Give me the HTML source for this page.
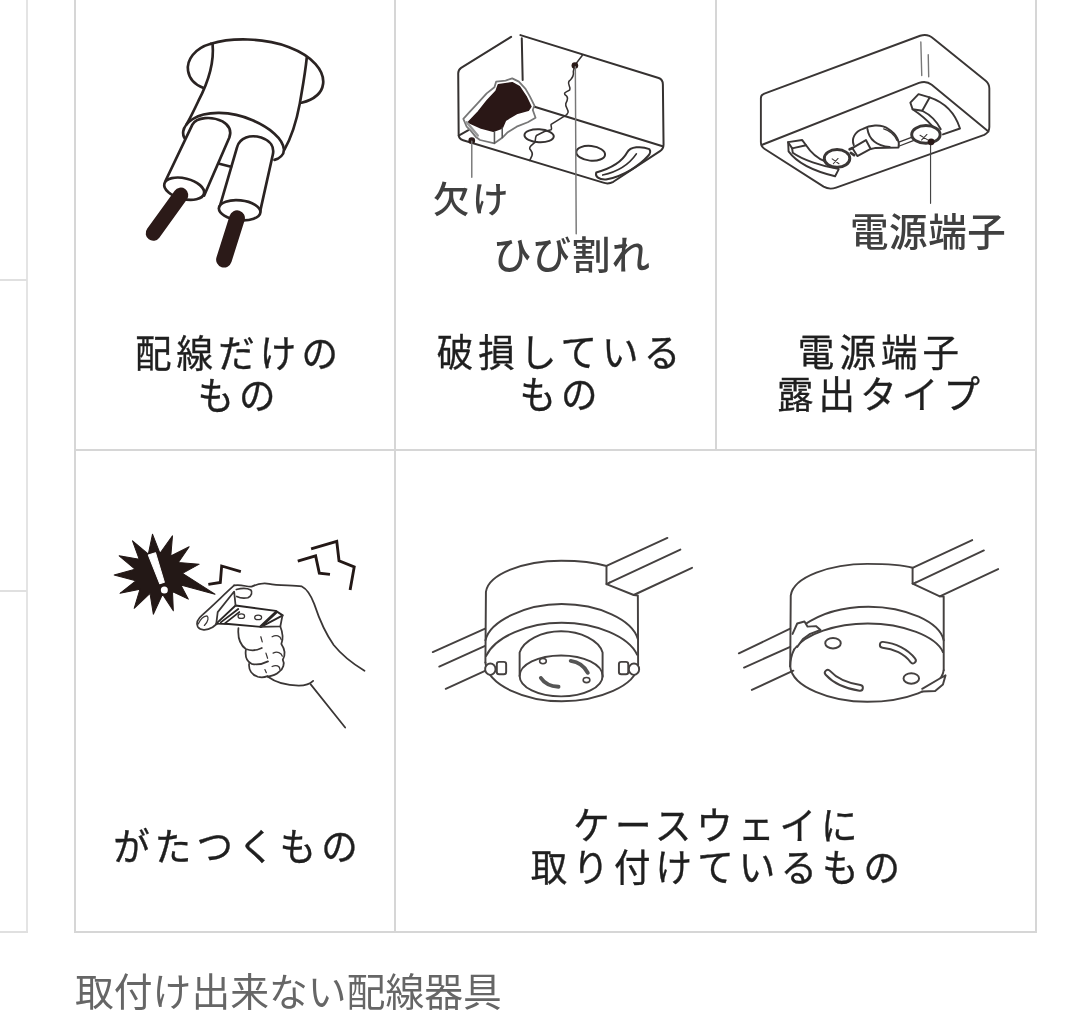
<!DOCTYPE html>
<html lang="ja">
<head>
<meta charset="utf-8">
<title>取付け出来ない配線器具</title>
<style>
html,body{margin:0;padding:0;background:#fff;}
body{width:1080px;height:1023px;position:relative;overflow:hidden;font-family:"Liberation Sans","Noto Sans CJK JP",sans-serif;}
.ln{position:absolute;background:#d6d6d6;}
.lbl{position:absolute;text-align:center;color:#1f1f1f;font-size:36.5px;line-height:41px;letter-spacing:5.1px;padding-left:6px;transform:scaleY(1.04);box-sizing:border-box;white-space:nowrap;font-weight:400;-webkit-text-stroke:0.35px #1f1f1f;}
.cap{position:absolute;left:75px;top:963px;font-size:38.8px;line-height:60px;color:#666;font-weight:400;white-space:nowrap;}
svg{position:absolute;left:0;top:0;}
svg text{font-family:"Liberation Sans","Noto Sans CJK JP",sans-serif;}
</style>
</head>
<body>
<div id="w" style="position:absolute;left:0;top:0;width:1080px;height:1023px;filter:blur(0.45px)">
<!-- grid lines -->
<div class="ln" style="left:26px;top:0;width:2px;height:933px;background:#e4e4e4"></div>
<div class="ln" style="left:0;top:279px;width:27px;height:2px;background:#e0e0e0"></div>
<div class="ln" style="left:0;top:590px;width:27px;height:2px;background:#e0e0e0"></div>
<div class="ln" style="left:0;top:931px;width:28px;height:2px;background:#e0e0e0"></div>
<div class="ln" style="left:74px;top:0;width:2px;height:933px"></div>
<div class="ln" style="left:394px;top:0;width:2px;height:933px"></div>
<div class="ln" style="left:715px;top:0;width:2px;height:450px"></div>
<div class="ln" style="left:1034.6px;top:0;width:2px;height:933px"></div>
<div class="ln" style="left:74px;top:449px;width:962.6px;height:2px"></div>
<div class="ln" style="left:74px;top:931px;width:962.6px;height:2px"></div>
<!-- labels -->
<div class="lbl" style="left:76px;width:320px;top:334px">配線だけの<br>もの</div>
<div class="lbl" style="left:398px;width:320px;top:333px">破損している<br>もの</div>
<div class="lbl" style="left:718px;width:320px;top:333px">電源端子<br>露出タイプ</div>
<div class="lbl" style="left:75px;width:320px;top:827px">がたつくもの</div>
<div class="lbl" style="left:394px;width:642px;top:806px">ケースウェイに<br>取り付けているもの</div>
<div class="cap">取付け出来ない配線器具</div>
<svg width="1080" height="1023" viewBox="0 0 1080 1023" fill="none" stroke="#2a2322" stroke-width="2" stroke-linecap="round" stroke-linejoin="round">
<!-- fig1: bare wiring; drawn in zoom coords (src = 130 + x/4.65, 30 + y/4.65) -->
<g transform="translate(130,30) scale(0.21505)" stroke-width="12.5">
  <!-- ceiling hole ellipse (visible parts) -->
  <path d="M376 64 C300 85 262 140 270 190 C276 228 305 256 342 270"/>
  <path d="M376 64 C470 35 620 35 740 80 C850 122 905 190 898 250 C892 298 850 325 798 338"/>
  <!-- cable sheath -->
  <path d="M384 66 C392 150 360 250 318 330 C300 368 280 410 262 440"/>
  <path d="M822 128 C815 200 800 280 790 340 C775 420 750 500 718 556"/>
  <!-- sheath end ellipse -->
  <path d="M268 520 C235 490 240 450 290 415 C350 375 470 375 570 420 C650 455 712 505 716 556 C716 580 696 598 672 604"/>
  <!-- wire 1 -->
  <path d="M166 700 L290 440 C310 405 380 400 430 425 C465 445 472 470 462 500 L345 770" fill="#fff"/>
  <ellipse cx="252" cy="738" rx="95" ry="48" transform="rotate(14 252 738)" fill="#fff"/>
  <!-- wire 2 -->
  <path d="M415 830 L498 545 C510 500 560 485 610 500 C655 515 672 545 664 580 L606 840" fill="#fff"/>
  <ellipse cx="510" cy="838" rx="97" ry="46" transform="rotate(6 510 838)" fill="#fff"/>
  <!-- link between wires -->
  <path d="M415 622 L470 636"/>
  <!-- conductors -->
  <path d="M236 768 L108 945" stroke="#2b1a18" stroke-width="70"/>
  <path d="M498 875 L437 1068" stroke="#2b1a18" stroke-width="73"/>
</g>
<!-- fig2: broken box; main group in zoom coords (src = 440 + x/4.5, 20 + y/4.5) -->
<g transform="translate(440,20) scale(0.22222)" stroke-width="9" stroke="#353130">
  <!-- outer box -->
  <path d="M320 76 L95 215 C84 222 82 228 82 240 L84 515 C84 530 90 537 104 541 L735 732 C752 738 766 736 780 728 L990 590 C1002 582 1006 574 1006 560 L1003 290 C1003 274 998 266 984 261 L362 68"/>
  <!-- inner edges -->
  <path d="M368 82 L372 270" stroke-width="9"/>
  <path d="M418 388 L1002 568"/>
  <path d="M84 520 L128 496"/>
  <!-- holes -->
  <ellipse cx="446" cy="521" rx="66" ry="29" transform="rotate(3 446 521)"/>
  <ellipse cx="678" cy="600" rx="65" ry="33" transform="rotate(6 678 600)"/>
  <path d="M703 686 C760 670 818 640 842 596 C856 570 905 566 942 581 C950 592 945 603 936 612 C900 652 830 702 747 718 C715 720 697 704 703 686 Z"/>
  <path d="M732 698 C795 684 850 652 884 602" stroke-width="7"/>
  <!-- crack -->
  <path d="M640 160 L607 203 L600 232 C604 250 596 262 580 276 C572 290 590 300 584 314 C570 324 556 326 562 336 C580 346 574 360 566 376 C562 392 580 402 576 416 C572 428 566 430 558 434 L522 456 L500 470 C498 480 506 488 500 494 L470 502 L434 520 C426 532 432 542 426 552 C414 562 400 568 404 580 C412 592 420 598 414 610 L404 632" stroke-width="7"/>
  <circle cx="607" cy="205" r="15" fill="#2a1a18" stroke="none"/>
  <circle cx="143" cy="543" r="15" fill="#2a1a18" stroke="none"/>
  <!-- leaders -->
  <path d="M609 210 L613 962" stroke="#777" stroke-width="6.5"/>
  <path d="M143 545 L143 708" stroke="#777" stroke-width="6.5"/>
</g>
<!-- broken part: zoom coords (src = 450 + x/9, 60 + y/9) -->
<g transform="translate(450,60) scale(0.11111)" stroke-width="20">
  <path d="M120 530 L175 470 L240 400 L330 300 L400 245 L415 195 L500 185 L560 165 L620 195 L680 260 L720 330 L760 410 L745 450 L770 520 L700 560 L600 600 L520 650 L470 700 L400 750 L270 720 L230 690 L190 640 L150 600 Z" fill="#fff" stroke="#777" stroke-width="16"/>
  <path d="M165 560 L255 465 L335 365 L415 280 L435 222 L560 205 L625 240 L688 335 L728 420 L705 452 L600 482 L500 542 L470 612 L390 642 L280 612 Z" fill="#2a1716" stroke="#2a1716" stroke-width="14"/>
  <path d="M400 645 L400 748 M470 612 L470 698" stroke-width="14" stroke="#555"/>
  <path d="M150 560 L250 680" stroke="#999" stroke-width="22"/>
</g>
<g fill="#404040" stroke="none" font-weight="500">
  <text x="433" y="213" font-size="36.5" letter-spacing="2.5">欠け</text>
  <text x="493" y="269" font-size="38.5" letter-spacing="1">ひび割れ</text>
</g>
<!-- fig3: exposed terminal type; box in zoom coords (src = 750 + x/4.32, 20 + y/4.32) -->
<g transform="translate(750,20) scale(0.23148)" stroke-width="8.2" stroke="#3a3635">
  <path d="M62 318 L735 68 C760 60 775 64 792 80 L1018 262 C1030 272 1034 280 1034 296 L1034 462 C1034 480 1028 488 1012 496 L372 724 C350 732 335 730 318 720 L62 556 C50 548 47 542 47 528 L47 338 C47 328 50 323 58 320 Z"/>
  <path d="M50 540 L730 272 C752 264 768 266 785 280 L1030 482"/>
  <path d="M738 95 L742 240 M770 150 L772 245" stroke="#777" stroke-width="6"/>
  <path d="M780 525 L780 792" stroke="#444" stroke-width="5"/>
</g>
<!-- details: zoom coords (src = 780 + x/6.75, 90 + y/6.75) -->
<g transform="translate(780,90) scale(0.148148)" stroke-width="13" stroke="#3a3635">
  <!-- left slot -->
  <path d="M55 352 L150 338 L176 373 L82 394 Z"/>
  <path d="M55 352 L58 414 C120 500 240 550 372 582 L396 536"/>
  <path d="M82 394 L86 424 C150 470 280 515 392 532"/>
  <path d="M176 373 C220 440 260 465 305 482"/>
  <!-- right slot -->
  <path d="M935 28 L1010 50 L960 140 L895 130 L880 85 Z"/>
  <path d="M1010 50 C1100 80 1180 150 1215 260 L1100 300"/>
  <path d="M960 140 C1020 170 1060 215 1085 265"/>
  <path d="M895 130 C940 160 990 200 1030 245"/>
  <!-- left screw -->
  <ellipse cx="385" cy="462" rx="86" ry="60" stroke-width="20" fill="#fff"/>
  <path d="M352 465 L398 498 M360 498 L392 462" stroke-width="7"/>
  <!-- middle piece -->
  <path d="M488 392 L580 338 L612 398 L522 446 Z" fill="#fff"/>
  <path d="M498 372 C480 330 505 280 560 262 C600 240 680 225 730 262 C790 300 810 350 800 388 L640 392 L612 398"/>
  <path d="M590 262 C600 330 650 375 740 385"/>
  <path d="M700 262 C735 270 775 305 790 340" stroke-width="9"/>
  <path d="M470 400 L490 392 M478 425 L500 440" stroke-width="18"/>
  <!-- link bar -->
  <path d="M802 352 L892 318 M806 378 L900 342" stroke-width="9"/>
  <!-- right screw -->
  <ellipse cx="985" cy="300" rx="96" ry="60" stroke-width="20" fill="#fff"/>
  <path d="M945 305 L1000 338 M955 338 L992 300" stroke-width="7"/>
  <circle cx="1020" cy="350" r="23" fill="#2a1a18" stroke="none"/>
</g>
<g fill="#404040" stroke="none" font-weight="500">
  <text x="850" y="246" font-size="38.5" letter-spacing="0.6">電源端子</text>
</g>
<!-- fig4: starburst; zoom coords (src = 105 + x/6, 525 + y/6) -->
<g transform="translate(105,525) scale(0.166667)">
  <path d="M285 55 L330 170 L405 65 L395 185 L505 130 L440 225 L565 235 L465 290 L660 415 L455 360 L500 445 L405 400 L410 515 L345 415 L290 535 L270 410 L175 500 L210 385 L90 410 L185 335 L55 300 L180 265 L85 185 L205 205 L165 95 L260 175 Z" fill="#231816" stroke="#231816" stroke-width="6"/>
  <path d="M260 180 L303 166 L356 343 L328 352 Z" fill="#fff" stroke="#fff" stroke-width="6"/>
  <circle cx="356" cy="390" r="21" fill="#fff" stroke="none"/>
  <path d="M620 356 L692 345 L700 246 L815 280" stroke="#231816" stroke-width="17" stroke-linecap="butt" stroke-linejoin="miter"/>
</g>
<!-- hand; zoom coords (src = 190 + x/4.872, 530 + y/4.872) -->
<g transform="translate(190,530) scale(0.205255)" stroke-width="8.5" stroke="#3a3635">
  <!-- zigzags -->
  <g stroke="#231816" stroke-width="14" stroke-linecap="butt" stroke-linejoin="miter">
    <path d="M525 152 L612 126 L630 210 L682 216"/>
    <path d="M590 92 L715 55 L726 150 L800 180 L780 292"/>
  </g>
  <!-- top of hand + wrist -->
  <path d="M215 270 C250 262 280 280 300 276 C330 262 360 256 385 262 C430 272 500 268 545 275 C575 290 590 320 605 360 C625 420 650 490 700 560 C740 610 800 655 850 686"/>
  <!-- index finger -->
  <path d="M215 270 C170 310 110 370 62 412 C40 430 28 452 38 472 C50 490 80 492 110 474 L150 442"/>
  <path d="M40 458 C50 435 68 420 82 418 C92 425 90 445 70 465" stroke-width="6"/>
  <!-- thumb -->
  <path d="M226 290 C250 284 280 284 296 292 C306 302 300 322 282 330 C262 334 240 330 228 324"/>
  <!-- device plate -->
  <path d="M128 456 L222 368 L418 394 L452 416 L346 472 L188 458 Z" fill="#fff" stroke-width="9" stroke="#2a2625"/>
  <path d="M150 450 L235 385 M170 455 L240 400" stroke-width="9" stroke="#2a2625"/>
  <path d="M345 470 L420 400" stroke-width="14" stroke="#2a2625"/>
  <ellipse cx="250" cy="420" rx="16" ry="11" stroke-width="6"/>
  <ellipse cx="332" cy="426" rx="17" ry="11" stroke-width="6"/>
  <path d="M222 368 L215 300 L135 400 L128 456" />
  <!-- curled fingers -->
  <path d="M236 478 C232 520 245 560 272 580 C300 590 330 585 350 575"/>
  <path d="M272 585 C268 615 275 640 300 652 C330 660 360 650 380 640"/>
  <path d="M288 652 C285 680 300 705 330 715 C350 720 368 716 378 712"/>
  <path d="M346 472 L440 470 L450 418"/>
  <path d="M440 470 C452 500 455 530 445 555 C462 580 465 610 452 632 C462 650 455 675 435 690 C420 705 395 712 378 714"/>
  <path d="M400 520 C420 510 440 515 445 535 M405 600 C425 590 445 598 450 615 M400 665 C420 655 438 662 438 680" stroke-width="6"/>
  <path d="M345 520 L352 545 M370 600 L378 625 M365 680 L372 695" stroke-width="6"/>
  <!-- bottom of hand -->
  <path d="M378 714 C420 745 470 758 530 758 C560 758 585 750 600 735"/>
  <path d="M588 752 L756 962"/>
</g>
<!-- fig5a: caseway 1; zoom coords (src = 425 + x/3.857, 525 + y/3.857) -->
<g transform="translate(425,525) scale(0.25926)" stroke-width="7.5" stroke="#454140">
  <!-- caseway lines left -->
  <path d="M30 490 L232 400 M55 546 L232 466 M80 632 L238 560"/>
  <!-- caseway lines right -->
  <path d="M700 158 L935 50 M712 222 L985 95 M805 270 L1030 165"/>
  <!-- body -->
  <path d="M233 530 L235 258 C245 190 380 138 525 138 C600 138 660 146 700 158 L700 228 L805 270 L821 272 L822 540"/>
  <path d="M700 228 L712 222"/>
  <path d="M233 445 C250 370 390 305 527 305 C670 305 800 365 821 440"/>
  <path d="M236 505 C270 430 400 377 527 377 C660 377 785 430 818 500"/>
  <path d="M233 530 C240 620 390 680 527 680 C670 680 815 620 822 540"/>
  <!-- inner socket -->
  <path d="M365 582 L365 492 C380 445 450 410 525 410 C600 410 672 445 685 492 L685 585"/>
  <ellipse cx="525" cy="582" rx="160" ry="79"/>
  <ellipse cx="455" cy="525" rx="13" ry="10" stroke-width="6"/>
  <ellipse cx="623" cy="598" rx="13" ry="10" stroke-width="6"/>
  <path d="M562 524 C590 528 615 545 628 570" stroke-width="15" stroke="#555"/>
  <path d="M447 590 C460 610 485 622 515 624" stroke-width="15" stroke="#555"/>
  <!-- latches -->
  <ellipse cx="252" cy="556" rx="20" ry="22" fill="#fff"/>
  <rect x="277" y="528" width="36" height="48" rx="9" fill="#fff"/>
  <ellipse cx="806" cy="556" rx="20" ry="22" fill="#fff"/>
  <rect x="748" y="528" width="36" height="48" rx="9" fill="#fff"/>
</g>
<!-- fig5b: caseway 2; zoom coords (src = 735 + x/3.857, 525 + y/3.857) -->
<g transform="translate(735,525) scale(0.25926)" stroke-width="7.5" stroke="#454140">
  <path d="M15 495 L213 400 M35 550 L213 470 M65 636 L225 562"/>
  <path d="M685 165 L915 58 M697 222 L960 98 M790 275 L1015 170"/>
  <path d="M213 545 L215 272 C225 200 370 150 510 150 C590 150 650 155 685 165 L685 226 L790 275 L805 276 L805 560"/>
  <path d="M685 226 L697 222"/>
  <path d="M262 388 C330 340 420 315 515 315 C660 315 790 375 805 445"/>
  <path d="M228 480 C270 420 390 380 512 380 C650 380 775 430 802 490"/>
  <path d="M213 545 C220 625 370 682 510 682 C650 682 795 635 805 560"/>
  <path d="M213 545 C213 520 218 500 228 480"/>
  <!-- holes -->
  <ellipse cx="378" cy="456" rx="30" ry="20"/>
  <ellipse cx="680" cy="592" rx="30" ry="20"/>
  <path d="M570 462 C615 466 660 488 686 522" stroke-width="30"/>
  <path d="M570 462 C615 466 660 488 686 522" stroke-width="15" stroke="#fff"/>
  <path d="M358 570 C385 600 430 620 482 628" stroke-width="30"/>
  <path d="M358 570 C385 600 430 620 482 628" stroke-width="15" stroke="#fff"/>
  <!-- left latch -->
  <path d="M222 420 L240 380 L268 372 L280 392 L312 390 L330 405 L290 420 L262 440 L240 470" fill="#fff"/>
  <!-- right latch -->
  <path d="M722 632 L790 592 L812 580 L802 615 L772 640 L722 642" fill="#fff"/>
</g>
</svg>
</div>
</body>
</html>
